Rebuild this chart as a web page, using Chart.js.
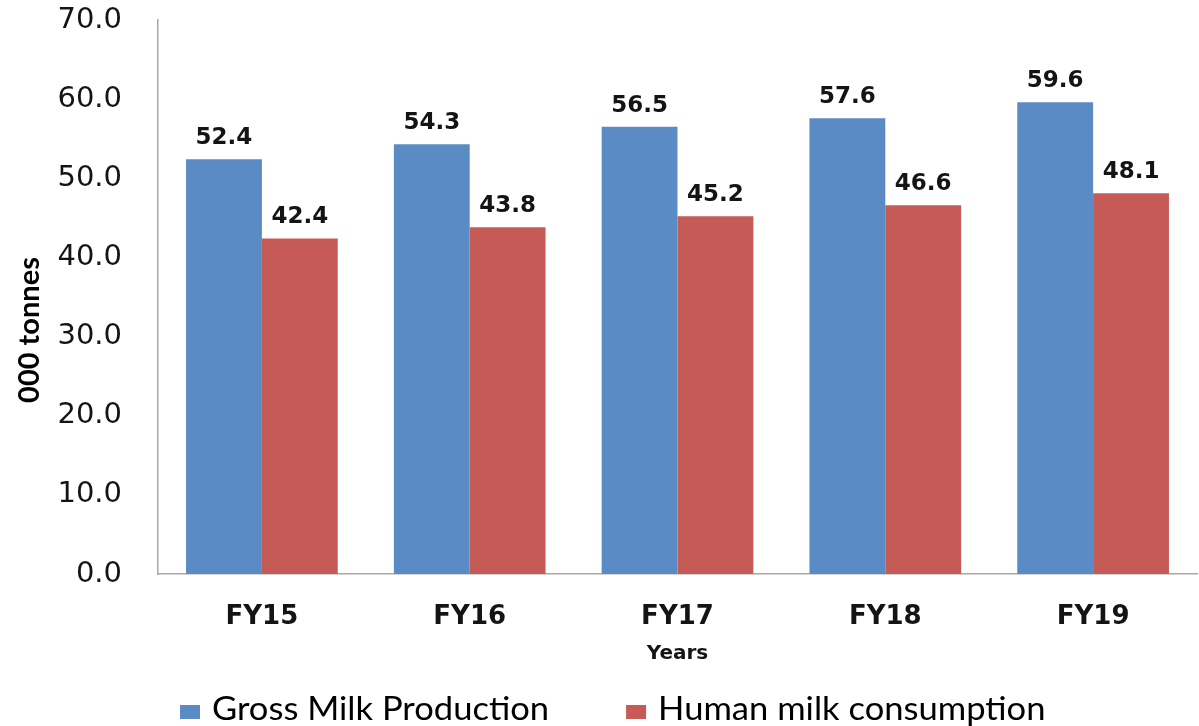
<!DOCTYPE html>
<html>
<head>
<meta charset="utf-8">
<script src="https://cdn.jsdelivr.net/npm/chart.js@4.4.1/dist/chart.umd.min.js"></script>
<style>
  html, body { margin: 0; padding: 0; background: #ffffff; overflow: hidden; }
  #wrap { width: 1199px; height: 726px; }
</style>
</head>
<body>
<div id="wrap"><canvas id="c" width="1199" height="726"></canvas></div>
<script>
// Milk production vs. human consumption, thousand tonnes per fiscal year
const years = ['FY15', 'FY16', 'FY17', 'FY18', 'FY19'];
const grossProduction = [52.4, 54.3, 56.5, 57.6, 59.6];
const humanConsumption = [42.4, 43.8, 45.2, 46.6, 48.1];
const yTicks = [0, 10, 20, 30, 40, 50, 60, 70];
const seriesNames = ['Gross Milk Production', 'Human milk consumption'];
const yAxisTitle = '000 tonnes';
const xAxisTitle = 'Years';

const BLUE = '#5b8bc5';
const RED = '#c55a57';
const AXIS = '#a8a8a8';
const INK = '#141414';

// Value labels above each bar
const valueLabels = {
  id: 'valueLabels',
  afterDatasetsDraw(chart) {
    const ctx = chart.ctx;
    ctx.save();
    ctx.font = 'bold 23px "DejaVu Sans"';
    ctx.fillStyle = INK;
    ctx.textAlign = 'center';
    ctx.textBaseline = 'alphabetic';
    chart.data.datasets.forEach((ds, i) => {
      chart.getDatasetMeta(i).data.forEach((bar, j) => {
        ctx.fillText(ds.data[j].toFixed(1), bar.x, bar.y - 15);
      });
    });
    ctx.restore();
  }
};

// Rotated y-axis title and the legend row under the axis
const extras = {
  id: 'extras',
  afterDraw(chart) {
    const ctx = chart.ctx;
    ctx.save();
    ctx.fillStyle = '#000';
    ctx.font = 'bold 29px Lato';
    ctx.textAlign = 'center';
    ctx.textBaseline = 'middle';
    ctx.translate(30, 330);
    ctx.rotate(-Math.PI / 2);
    ctx.fillText(yAxisTitle, 0, 0);
    ctx.restore();

    ctx.save();
    ctx.font = '32px Lato';
    ctx.textBaseline = 'alphabetic';
    const stretch = 1.08;
    let x = 180;
    chart.data.datasets.forEach((ds) => {
      ctx.fillStyle = ds.backgroundColor;
      ctx.fillRect(x, 705, 20, 14);
      ctx.fillStyle = '#000';
      const tx = x + 32;
      ctx.save();
      ctx.translate(tx, 720);
      ctx.scale(stretch, 1);
      ctx.fillText(ds.label, 0, 0);
      ctx.restore();
      x = tx + ctx.measureText(ds.label).width * stretch + 77;
    });
    ctx.restore();
  }
};

new Chart(document.getElementById('c'), {
  type: 'bar',
  data: {
    labels: years,
    datasets: [
      { label: seriesNames[0], data: grossProduction, backgroundColor: BLUE },
      { label: seriesNames[1], data: humanConsumption, backgroundColor: RED }
    ]
  },
  options: {
    responsive: false,
    animation: false,
    devicePixelRatio: 1,
    layout: { padding: { top: 20, right: 2, left: 0, bottom: 0 } },
    datasets: { bar: { categoryPercentage: 0.73, barPercentage: 1.0 } },
    plugins: {
      legend: { display: false },
      tooltip: { enabled: false }
    },
    scales: {
      x: {
        grid: { display: false, drawTicks: false },
        border: { display: true, color: AXIS, width: 1.5 },
        ticks: {
          color: INK,
          font: { family: '"DejaVu Sans"', size: 26, weight: 'bold' },
          padding: 28
        },
        title: {
          display: true,
          text: xAxisTitle,
          color: INK,
          font: { family: '"DejaVu Sans"', size: 20, weight: 'bold' },
          padding: { top: 0, bottom: 60 }
        },
        afterFit(scale) { scale.height = 152; }
      },
      y: {
        min: 0,
        max: 70,
        grid: { display: false, drawTicks: false },
        border: { display: true, color: AXIS, width: 1.5 },
        afterBuildTicks(scale) { scale.ticks = yTicks.map(v => ({ value: v })); },
        ticks: {
          color: INK,
          font: { family: '"DejaVu Sans"', size: 29 },
          padding: 36,
          callback: (v) => Number(v).toFixed(1)
        },
        afterFit(scale) {
          scale.width = 158;
          scale.paddingTop = 0;
          scale.paddingBottom = 0;
        }
      }
    }
  },
  plugins: [valueLabels, extras]
});
</script>
</body>
</html>
